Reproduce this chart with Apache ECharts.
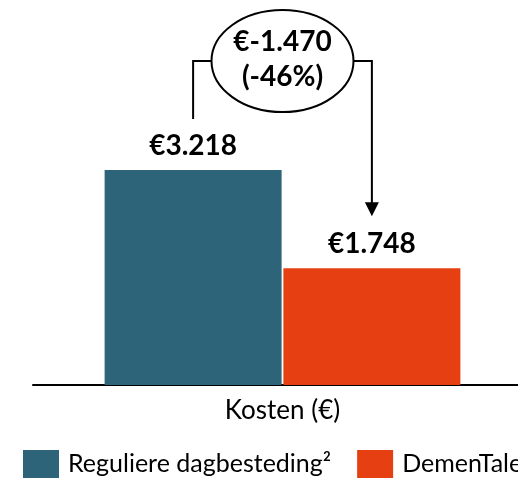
<!DOCTYPE html>
<html>
<head>
<meta charset="utf-8">
<script src="https://cdn.jsdelivr.net/npm/echarts@6/dist/echarts.min.js"></script>
<style>
  html, body { margin: 0; padding: 0; background: #fff; }
  #main { width: 518px; height: 478px; }
</style>
</head>
<body>
<div id="main"></div>
<script>
var categories = ['Kosten (€)'];
var seriesNames = ['Reguliere dagbesteding²', 'DemenTalent'];
var regulier = [3218];
var dementale = [1748];

var colors = ['#2E6479', '#E64012'];
var FONT = 'Lato';
var BAR_W = 177;

function euro(v) {
  var s = String(Math.abs(v));
  s = s.replace(/\B(?=(\d{3})+(?!\d))/g, '.');
  return '€' + (v < 0 ? '-' : '') + s;
}

var chart = echarts.init(document.getElementById('main'));

var option = {
  animation: false,
  grid: { left: 33, width: 499, top: 51, bottom: 93, outerBoundsMode: 'none' },
  xAxis: {
    type: 'category',
    data: categories,
    axisLine: { lineStyle: { color: '#000', width: 2 } },
    axisTick: { show: false },
    axisLabel: { color: '#000', fontFamily: FONT, fontSize: 26, margin: 13 }
  },
  yAxis: {
    type: 'value',
    min: 0,
    max: 5000,
    show: false
  },
  legend: {
    left: 23,
    top: 450,
    padding: 0,
    width: 900,
    itemWidth: 36,
    itemHeight: 28,
    itemGap: 26,
    icon: 'rect',
    textStyle: { color: '#000', fontFamily: FONT, fontSize: 25, padding: [0, 0, 0, 4] },
    data: seriesNames
  },
  series: [
    {
      name: seriesNames[0],
      type: 'bar',
      data: regulier,
      barWidth: BAR_W,
      barGap: '1%',
      itemStyle: { color: colors[0] },
      label: {
        show: true, position: 'top', distance: 10,
        formatter: function (p) { return euro(p.value); },
        color: '#000', fontFamily: FONT, fontWeight: 'bold', fontSize: 28
      }
    },
    {
      name: seriesNames[1],
      type: 'bar',
      data: dementale,
      barWidth: BAR_W,
      itemStyle: { color: colors[1] },
      label: {
        show: true, position: 'top', distance: 10,
        formatter: function (p) { return euro(p.value); },
        color: '#000', fontFamily: FONT, fontWeight: 'bold', fontSize: 28
      }
    }
  ]
};
chart.setOption(option);

// difference annotation, placed from the bar positions
var cx = chart.convertToPixel({ xAxisIndex: 0 }, categories[0]);
var off = (BAR_W * 1.01) / 2;
var x1 = cx - off, x2 = cx + off;
var top1 = chart.convertToPixel({ yAxisIndex: 0 }, regulier[0]);
var top2 = chart.convertToPixel({ yAxisIndex: 0 }, dementale[0]);
var diff = dementale[0] - regulier[0];
var pct = Math.round(diff / regulier[0] * 100);
var ey = top1 - 109, rx = 71, ry = 51;
var tipY = top2 - 52;
var stroke = { stroke: '#000', lineWidth: 2, fill: null };

chart.setOption({
  graphic: [
    { type: 'polyline', shape: { points: [[x1, top1 - 51], [x1, ey], [cx - rx, ey]] }, style: stroke },
    { type: 'polyline', shape: { points: [[cx + rx, ey], [x2, ey], [x2, tipY - 13]] }, style: stroke },
    { type: 'polygon', shape: { points: [[x2 - 7, tipY - 14], [x2 + 7, tipY - 14], [x2, tipY]] }, style: { fill: '#000' } },
    { type: 'ellipse', shape: { cx: cx, cy: ey, rx: rx, ry: ry }, style: { stroke: '#000', lineWidth: 2, fill: '#fff' } },
    {
      type: 'text', x: cx, y: ey - 19,
      style: { text: euro(diff), fill: '#000', font: 'bold 28px ' + FONT, align: 'center', verticalAlign: 'middle' }
    },
    {
      type: 'text', x: cx, y: ey + 16,
      style: { text: '(' + pct + '%)', fill: '#000', font: 'bold 28px ' + FONT, align: 'center', verticalAlign: 'middle' }
    }
  ]
});
</script>
</body>
</html>
